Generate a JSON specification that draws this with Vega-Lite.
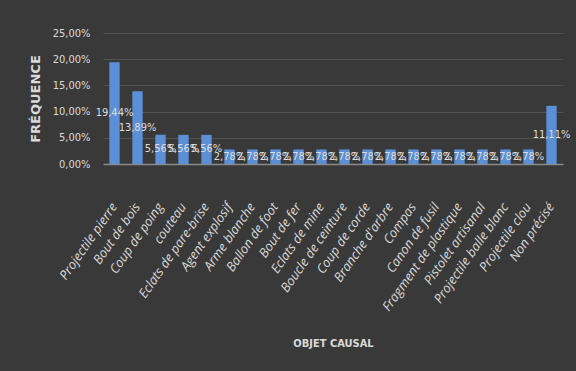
{
  "$schema": "https://vega.github.io/schema/vega-lite/v6.json",
  "autosize": "none",
  "width": 460,
  "height": 131,
  "padding": {"left": 103, "top": 33, "right": 13, "bottom": 207},
  "background": "#393939",
  "config": {
    "locale": {"number": {"decimal": ",", "thousands": "\u00a0", "grouping": [3], "currency": ["", "\u00a0€"]}},
    "view": {"stroke": null},
    "axis": {"labelColor": "#d9d9d9", "titleColor": "#d9d9d9"}
  },
  "data": {
    "values": [
      {"objet": "Projectile pierre", "freq": 0.1944},
      {"objet": "Bout de bois", "freq": 0.1389},
      {"objet": "Coup de poing", "freq": 0.0556},
      {"objet": "couteau", "freq": 0.0556},
      {"objet": "Eclats de pare-brise", "freq": 0.0556},
      {"objet": "Agent explosif", "freq": 0.0278},
      {"objet": "Arme blanche", "freq": 0.0278},
      {"objet": "Ballon de foot", "freq": 0.0278},
      {"objet": "Bout de fer", "freq": 0.0278},
      {"objet": "Eclats de mine", "freq": 0.0278},
      {"objet": "Boucle de ceinture", "freq": 0.0278},
      {"objet": "Coup de corde", "freq": 0.0278},
      {"objet": "Branche d'arbre", "freq": 0.0278},
      {"objet": "Compas", "freq": 0.0278},
      {"objet": "Canon de fusil", "freq": 0.0278},
      {"objet": "Fragment de plastique", "freq": 0.0278},
      {"objet": "Pistolet artisanal", "freq": 0.0278},
      {"objet": "Projectile balle blanc", "freq": 0.0278},
      {"objet": "Projectile clou", "freq": 0.0278},
      {"objet": "Non précisé", "freq": 0.1111}
    ]
  },
  "encoding": {
    "x": {
      "field": "objet",
      "type": "nominal",
      "sort": null,
      "scale": {"paddingInner": 0.55, "paddingOuter": 0.275},
      "axis": {
        "title": "OBJET CAUSAL",
        "titleFont": "DejaVu Sans Condensed",
        "titleFontSize": 11,
        "titleFontWeight": "bold",
        "titlePadding": 24,
        "labelAngle": -55,
        "labelFont": "Open Sans",
        "labelFontStyle": "italic",
        "labelFontSize": 13,
        "labelPadding": 40,
        "ticks": false,
        "domainColor": "#8a8a8a",
        "domainWidth": 1.5
      }
    }
  },
  "layer": [
    {
      "mark": {"type": "bar", "color": "#5b8fd6"},
      "encoding": {
        "y": {
          "field": "freq",
          "type": "quantitative",
          "scale": {"domain": [0, 0.25]},
          "axis": {
            "title": "FRÉQUENCE",
            "titleFont": "DejaVu Sans",
            "titleFontSize": 13,
            "titleFontWeight": "bold",
            "titlePadding": 10,
            "values": [0, 0.05, 0.1, 0.15, 0.2, 0.25],
            "format": ".2%",
            "labelFont": "DejaVu Sans Condensed",
            "labelFontSize": 11,
            "labelPadding": 13,
            "ticks": false,
            "domain": false,
            "gridColor": "#535353",
            "gridWidth": 1
          }
        }
      }
    },
    {
      "mark": {"type": "text", "color": "#dcdcdc", "font": "DejaVu Sans Condensed", "fontSize": 11, "baseline": "middle", "align": "center"},
      "encoding": {
        "y": {"field": "freq", "type": "quantitative", "scale": {"domain": [0, 0.5]}, "axis": null},
        "text": {"field": "freq", "type": "quantitative", "format": ".2%"}
      }
    }
  ],
  "resolve": {"scale": {"y": "independent"}}
}
